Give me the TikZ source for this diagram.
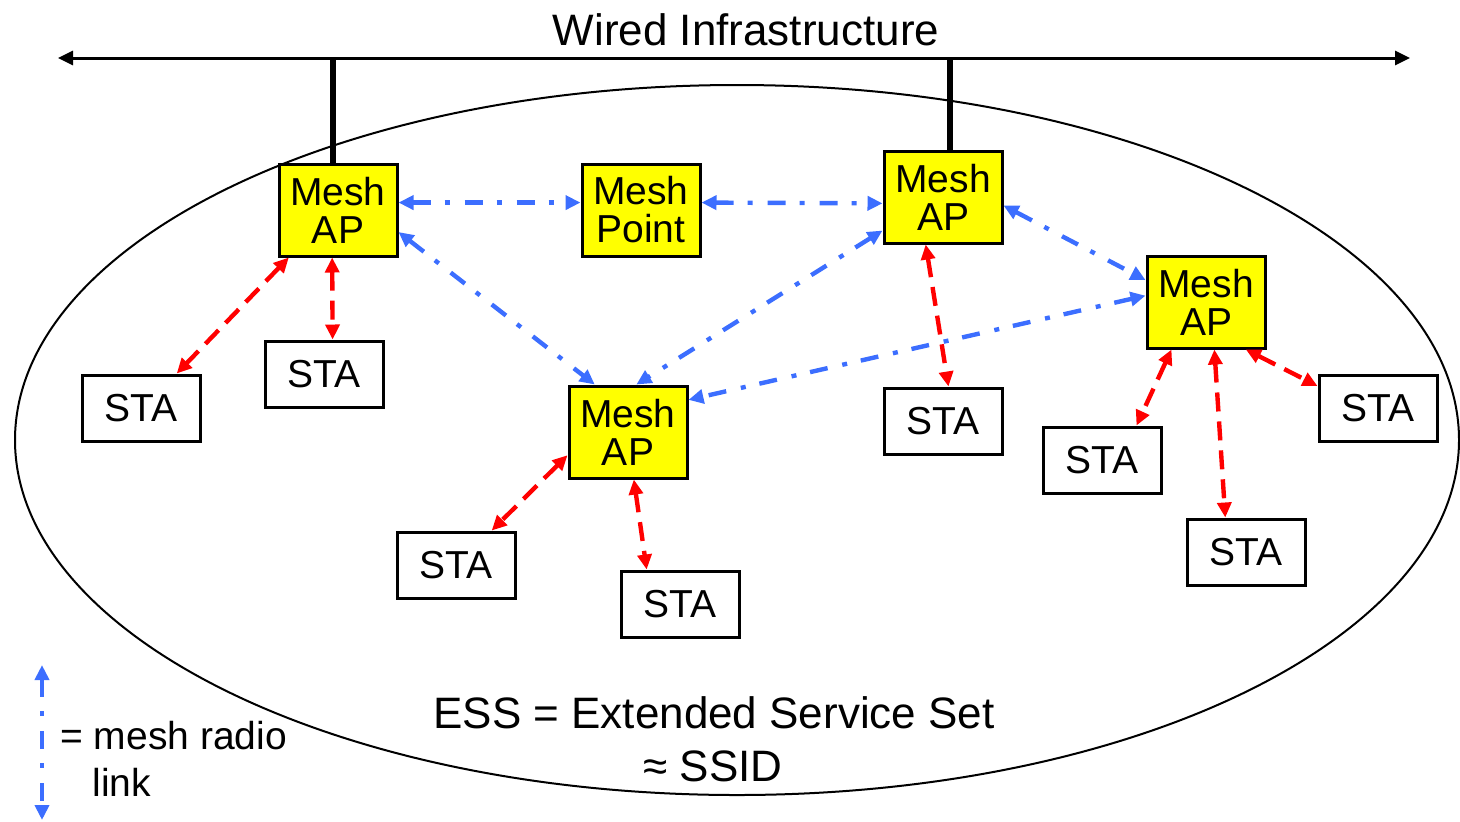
\documentclass[tikz,border=0pt]{standalone}
\usepackage{fontspec}
\setmainfont{Liberation Sans}
\usetikzlibrary{arrows.meta}
\definecolor{linkblue}{RGB}{60,110,255}
\definecolor{meshyellow}{RGB}{255,255,0}

\begin{document}
\begin{tikzpicture}[x=0.5pt,y=-0.5pt,>={Triangle[length=7.5pt,width=7pt]},
  meshnode/.style={draw,line width=1.5pt,fill=meshyellow,minimum width=59pt,
    minimum height=46pt,inner sep=0pt,align=center,font=\fontsize{19.5}{19}\selectfont},
  stanode/.style={draw,line width=1.5pt,fill=white,minimum width=59pt,
    minimum height=33pt,inner sep=0pt,font=\fontsize{19.5}{22}\selectfont},
  radio/.style={<->,linkblue,line width=2.2pt,dash pattern=on 9pt off 7pt on 2.5pt off 7.5pt},
  assoc/.style={<->,red,line width=2.2pt,dash pattern=on 9.5pt off 5pt},
  bigtext/.style={font=\fontsize{22}{27}\selectfont,inner sep=0pt}]
  \useasboundingbox (0,0) rectangle (1460,821);

  % The service set drawn as one large ellipse.
  \draw[line width=1pt] (737,440) ellipse [x radius=722, y radius=355];

  % Wired backbone along the top.
  \coordinate (wl) at (58,58);
  \coordinate (wr) at (1410,58);
  \draw[<->,line width=1.5pt] (wl) -- (wr);
  \node[bigtext,anchor=base] (title) at (746,45) {Wired Infrastructure};

  % Mesh nodes.
  \node[meshnode] (ap1) at (338,210) {Mesh\\AP};
  \node[meshnode] (mp)  at (641,210) {Mesh\\Point};
  \node[meshnode] (ap2) at (943,197) {Mesh\\AP};
  \node[meshnode] (ap3) at (1206,302) {Mesh\\AP};
  \node[meshnode] (ap4) at (628,432) {Mesh\\AP};

  % Stations.
  \node[stanode] (sta1) at (141,408) {STA};
  \node[stanode] (sta2) at (324,374) {STA};
  \node[stanode] (sta3) at (943,421) {STA};
  \node[stanode] (sta4) at (1102,460) {STA};
  \node[stanode] (sta5) at (1378,408) {STA};
  \node[stanode] (sta6) at (1246,552) {STA};
  \node[stanode] (sta7) at (456,565) {STA};
  \node[stanode] (sta8) at (680,604) {STA};

  % Two APs hang from the backbone.
  \draw[line width=3pt] ([xshift=-2.5pt]ap1.north) -- ([xshift=-2.5pt]ap1.north |- wl);
  \draw[line width=3pt] ([xshift=3.5pt]ap2.north) -- ([xshift=3.5pt]ap2.north |- wl);

  % Mesh radio links.
  \draw[radio] (ap1.7) -- (mp.173);
  \draw[radio] (mp.7) -- (ap2.186);
  \draw[radio] (ap1.-20) -- (ap4.125);
  \draw[radio] (ap2.209) -- (ap4.80);
  \draw[radio] (ap2.-8) -- (ap3.160);
  \draw[radio] (ap3.174) -- (ap4.28);

  % Station associations.
  \draw[assoc] (ap1.224) -- (sta1.44);
  \draw[assoc] (ap1.263) -- (sta2.76);
  \draw[assoc] (ap2.250) -- (sta3.81);
  \draw[assoc] (ap3.234) -- (sta4.45);
  \draw[assoc] (ap3.280) -- (sta6.121);
  \draw[assoc] (ap3.310) -- (sta5.160);
  \draw[assoc] (ap4.201) -- (sta7.44);
  \draw[assoc] (ap4.277) -- (sta8.134);

  % Caption inside the ellipse.
  \node[bigtext,anchor=base] (ess) at (714,728) {ESS = Extended Service Set};
  \node[bigtext,anchor=base] (ssid) at (713,781) {≈ SSID};

  % Legend, bottom left.
  \coordinate (lgtop) at (42,665);
  \coordinate (lgbot) at (42,820);
  \draw[radio] (lgtop) -- (lgbot);
  \node[font=\fontsize{19.5}{22}\selectfont,inner sep=0pt,anchor=base west] (lgtext) at (60,749) {= mesh radio};
  \node[font=\fontsize{19.5}{22}\selectfont,inner sep=0pt,anchor=base west] (lgtext2) at (92,796) {link};
\end{tikzpicture}
\end{document}
